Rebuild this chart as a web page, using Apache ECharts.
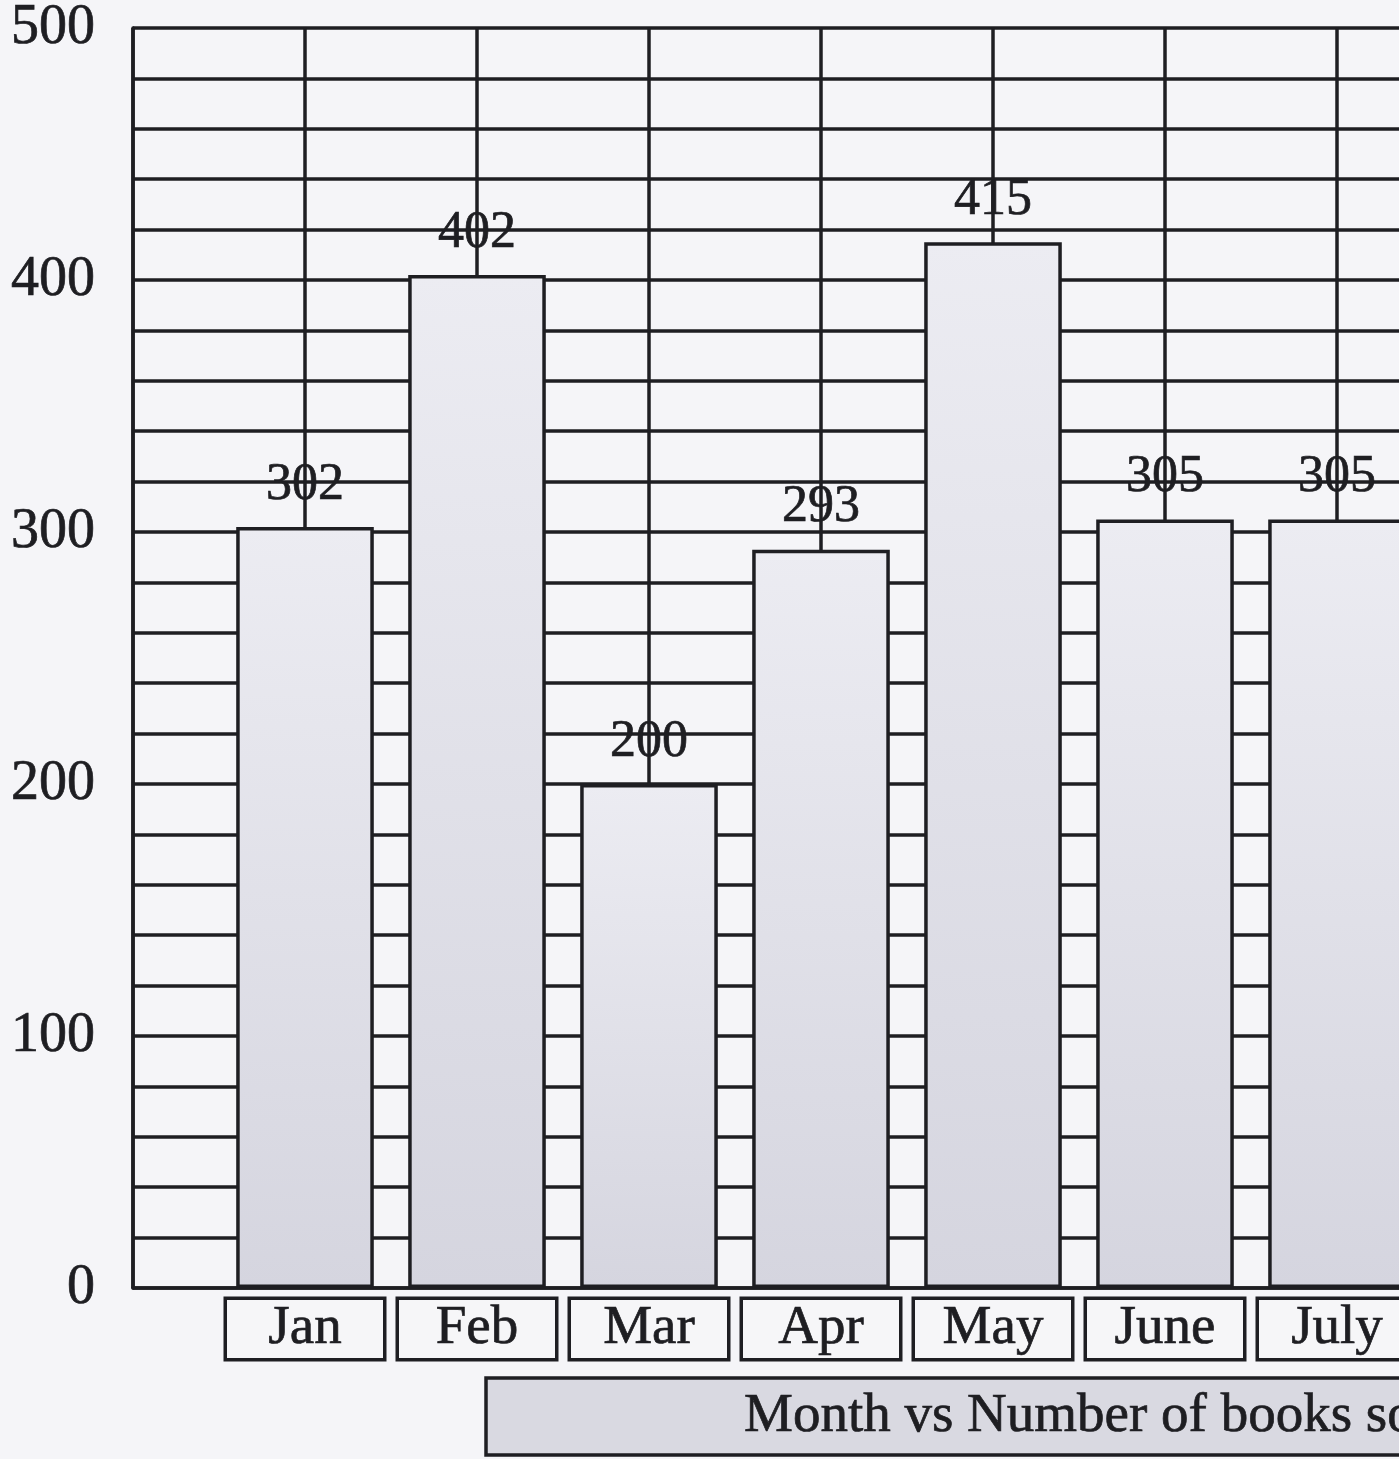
<!DOCTYPE html>
<html>
<head>
<meta charset="utf-8">
<title>Month vs Number of books sold</title>
<script src="https://cdn.jsdelivr.net/npm/echarts@6/dist/echarts.min.js"></script>
<style>
  html, body { margin: 0; padding: 0; background: #f5f5f8; }
  #chart { width: 1399px; height: 1459px; }
</style>
</head>
<body>
<div id="chart"></div>
<script>
// Books sold per month
const months = ['Jan', 'Feb', 'Mar', 'Apr', 'May', 'June', 'July'];
const booksSold = [302, 402, 200, 293, 415, 305, 305];
const yTickLabels = [0, 100, 200, 300, 400, 500];
const chartTitle = 'Month vs Number of books sold';

// Blank slots at both ends so each month sits on a grid line
const categories = [''].concat(months, ['']);
const barValues = [null].concat(booksSold, [null]);

const ink = '#1e1e22';
const serif = '"Liberation Serif", "DejaVu Serif", serif';
const lineW = 3.5;
// a thin outline in the text colour gives the slightly heavier print look
const heavy = { textBorderColor: ink, textBorderWidth: 0.7 };

const chart = echarts.init(document.getElementById('chart'), null, { renderer: 'canvas' });

chart.setOption({
  backgroundColor: '#f5f5f8',
  animation: false,
  title: {
    text: chartTitle,
    left: 486,
    top: 1378,
    padding: [11, 260, 11, 258],
    backgroundColor: '#d9d9e1',
    borderColor: ink,
    borderWidth: lineW,
    textStyle: Object.assign({ fontFamily: serif, fontSize: 55, fontWeight: 'normal', color: ink }, heavy)
  },
  grid: {
    left: 133, top: 28, width: 1376, height: 1260,
    containLabel: false,
    outerBoundsMode: 'none'
  },
  xAxis: {
    type: 'category',
    data: categories,
    boundaryGap: false,
    axisLine: { show: true, lineStyle: { color: ink, width: lineW } },
    axisTick: { show: false },
    splitLine: { show: true, interval: 0, lineStyle: { color: ink, width: lineW } },
    axisLabel: {
      interval: 0,
      margin: 12,
      formatter: function (v) { return v ? '{m|' + v + '}' : ''; },
      rich: {
        m: Object.assign({
          fontFamily: serif,
          fontSize: 55,
          color: ink,
          width: 156,
          height: 58,
          align: 'center',
          verticalAlign: 'middle',
          backgroundColor: '#f6f6f8',
          borderColor: ink,
          borderWidth: lineW,
          padding: [0, 0, 0, 0]
        }, heavy)
      }
    }
  },
  yAxis: {
    type: 'value',
    min: 0,
    max: 500,
    interval: 20,
    axisLine: { show: true, lineStyle: { color: ink, width: lineW } },
    axisTick: { show: false },
    splitLine: { show: true, lineStyle: { color: ink, width: lineW } },
    axisLabel: Object.assign({
      margin: 38,
      fontFamily: serif,
      fontSize: 56,
      color: ink,
      formatter: function (v) { return yTickLabels.indexOf(v) >= 0 ? String(v) : ''; }
    }, heavy)
  },
  series: [{
    type: 'bar',
    data: barValues,
    barWidth: '80%',
    itemStyle: {
      color: new echarts.graphic.LinearGradient(0, 0, 0, 1, [
        { offset: 0, color: '#ececf2' },
        { offset: 1, color: '#d5d5df' }
      ]),
      borderColor: ink,
      borderWidth: lineW
    },
    label: Object.assign({
      show: true,
      position: 'top',
      distance: 16,
      fontFamily: serif,
      fontSize: 52,
      color: ink
    }, heavy)
  }]
});
</script>
</body>
</html>
